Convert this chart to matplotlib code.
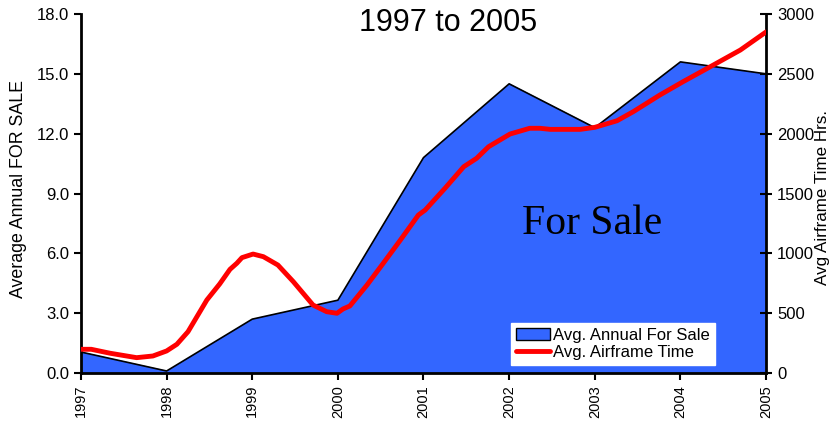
import matplotlib

matplotlib.use("Agg")
import matplotlib.pyplot as plt
from matplotlib.ticker import FormatStrFormatter

plt.rcParams["font.family"] = ["Liberation Sans", "DejaVu Sans"]

years = [1997, 1998, 1999, 2000, 2001, 2002, 2003, 2004, 2005]
for_sale = [1.05, 0.1, 2.7, 3.65, 10.8, 14.5, 12.3, 15.6, 15.0]

# airframe time
air_x = [1997.0, 1997.12, 1997.34, 1997.65, 1997.84, 1998.0, 1998.12, 1998.25,
         1998.47, 1998.62, 1998.74, 1998.82, 1998.88, 1999.01, 1999.13, 1999.3,
         1999.48, 1999.71, 1999.87, 1999.99, 2000.06, 2000.14, 2000.34, 2000.53,
         2000.73, 2000.94, 2001.02, 2001.25, 2001.47, 2001.62, 2001.76, 2002.01,
         2002.24, 2002.36, 2002.48, 2002.83, 2003.0, 2003.26, 2003.45, 2003.76,
         2004.03, 2004.35, 2004.7, 2005.0]
air_hrs = [198, 198, 165, 128, 142, 184, 240, 345,
           610, 744, 866, 917, 964, 994, 972, 902,
           763, 568, 512, 499, 535, 560, 735, 917,
           1111, 1320, 1362, 1543, 1724, 1794, 1891, 1997,
           2045, 2045, 2036, 2036, 2053, 2108, 2184, 2323,
           2434, 2560, 2699, 2850]

fig = plt.figure(figsize=(8.33, 4.25), dpi=100)
ax = fig.add_axes([0.0972, 0.1224, 0.8224, 0.8446])
ax.fill_between(years, for_sale, 0, color="#3366ff", label="Avg. Annual For Sale", zorder=1)
ax.plot(years, for_sale, color="black", lw=1.2, zorder=2)
ax.set_xlim(1997, 2005)
ax.set_ylim(0, 18)
ax.set_yticks([0, 3, 6, 9, 12, 15, 18])
ax.yaxis.set_major_formatter(FormatStrFormatter("%.1f"))
ax.set_xticks(years)
ax.set_xticklabels([str(y) for y in years], rotation=90, fontsize=10.5)
ax.tick_params(axis="y", labelsize=12, direction="out", length=5, width=1.5)
ax.tick_params(axis="x", direction="out", length=5, width=1.5)
ax.set_ylabel("Average Annual FOR SALE", fontsize=12.75)
ax.yaxis.set_label_coords(-0.079, 0.512)
for s in ["top", "right"]:
    ax.spines[s].set_visible(False)
for s in ["left", "bottom"]:
    ax.spines[s].set_linewidth(2)

ax2 = ax.twinx()
ax2.plot(air_x, air_hrs, color="#ff0000", lw=3.5, label="Avg. Airframe Time",
         solid_capstyle="round", solid_joinstyle="round", zorder=3)
ax2.set_ylim(0, 3000)
ax2.set_yticks([0, 500, 1000, 1500, 2000, 2500, 3000])
ax2.tick_params(axis="y", labelsize=12, direction="inout", length=9, width=1.5)
for s in ["top", "left", "bottom"]:
    ax2.spines[s].set_visible(False)
ax2.spines["right"].set_linewidth(2)
ax2.set_ylabel("Avg Airframe Time Hrs.", fontsize=12.25)
ax2.yaxis.set_label_coords(1.071, 0.488)

fig.text(0.538, 0.946, "1997 to 2005", fontsize=22, ha="center", va="center")
ax.text(2002.97, 6.97, "For Sale", fontsize=30, ha="center", va="baseline",
        family=["Liberation Serif", "DejaVu Serif"], zorder=4)

h1, l1 = ax.get_legend_handles_labels()
h2, l2 = ax2.get_legend_handles_labels()
leg = ax2.legend(h1 + h2, l1 + l2, loc="lower left", bbox_to_anchor=(0.628, 0.022),
                 fontsize=12, frameon=True, fancybox=False, framealpha=1,
                 edgecolor="white", borderpad=0.3, borderaxespad=0,
                 handlelength=2.0, handletextpad=0.2, labelspacing=0.15)
for h in leg.legend_handles:
    if hasattr(h, "set_edgecolor"):
        h.set_edgecolor("black")

fig.savefig("out.png", dpi=100)
